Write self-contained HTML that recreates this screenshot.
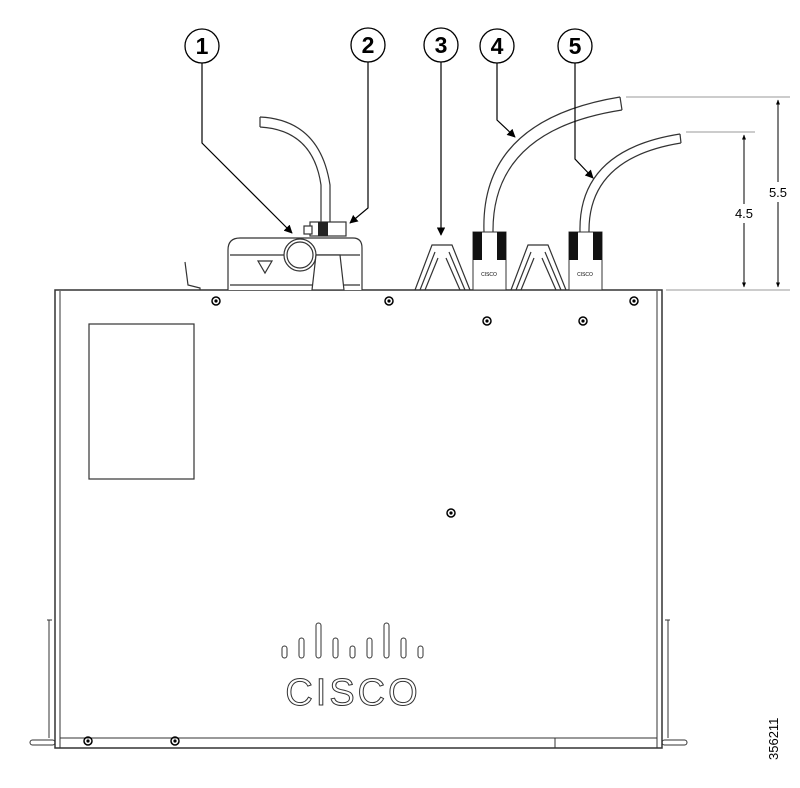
<!DOCTYPE html>
<html><head><meta charset="utf-8"><style>
html,body{margin:0;padding:0;background:#fff;width:800px;height:788px;overflow:hidden}
svg{display:block}
text{font-family:"Liberation Sans",sans-serif}
</style></head><body>
<svg width="800" height="788" viewBox="0 0 800 788" xmlns="http://www.w3.org/2000/svg">
<defs>
<marker id="ah" viewBox="0 0 10 10" refX="9" refY="5" markerWidth="7" markerHeight="7" orient="auto-start-reverse"><path d="M0,0 L10,5 L0,10 z" fill="#000"/></marker>
<marker id="sa" viewBox="0 0 10 10" refX="9" refY="5" markerWidth="5" markerHeight="5" orient="auto-start-reverse"><path d="M0,1 L10,5 L0,9 z" fill="#000"/></marker>
</defs>
<g fill="none" stroke="#333" stroke-width="1.5">
<path d="M55,748 V290 H662 V748 Z"/>
<line x1="60" y1="291" x2="60" y2="748" stroke-width="1"/>
<line x1="657" y1="291" x2="657" y2="748" stroke-width="1"/>
<line x1="60" y1="738" x2="657" y2="738" stroke-width="1"/>
<rect x="555" y="738" width="102" height="10" stroke-width="1"/>
<path d="M49,620 V738 M47,620 h5" stroke-width="1"/>
<path d="M668,620 V738 M665,620 h5" stroke-width="1"/>
<rect x="30" y="740" width="25" height="5" rx="2.5" stroke-width="1"/>
<rect x="662" y="740" width="25" height="5" rx="2.5" stroke-width="1"/>
<rect x="89" y="324" width="105" height="155" stroke-width="1.2"/>
<g stroke-width="1">
<rect x="282" y="646" width="5" height="12" rx="2.5"/>
<rect x="299" y="638" width="5" height="20" rx="2.5"/>
<rect x="316" y="623" width="5" height="35" rx="2.5"/>
<rect x="333" y="638" width="5" height="20" rx="2.5"/>
<rect x="350" y="646" width="5" height="12" rx="2.5"/>
<rect x="367" y="638" width="5" height="20" rx="2.5"/>
<rect x="384" y="623" width="5" height="35" rx="2.5"/>
<rect x="401" y="638" width="5" height="20" rx="2.5"/>
<rect x="418" y="646" width="5" height="12" rx="2.5"/>
</g>
</g>
<text x="353" y="705" text-anchor="middle" font-size="38" fill="#fff" stroke="#333" stroke-width="1" letter-spacing="3">CISCO</text>
<g fill="none" stroke="#000" stroke-width="1.5">
<circle cx="216" cy="301" r="4"/><circle cx="389" cy="301" r="4"/><circle cx="487" cy="321" r="4"/><circle cx="583" cy="321" r="4"/><circle cx="634" cy="301" r="4"/><circle cx="451" cy="513" r="4"/><circle cx="88" cy="741" r="4"/><circle cx="175" cy="741" r="4"/>
</g>
<g fill="#000"><circle cx="216" cy="301" r="1.6"/><circle cx="389" cy="301" r="1.6"/><circle cx="487" cy="321" r="1.6"/><circle cx="583" cy="321" r="1.6"/><circle cx="634" cy="301" r="1.6"/><circle cx="451" cy="513" r="1.6"/><circle cx="88" cy="741" r="1.6"/><circle cx="175" cy="741" r="1.6"/></g>
<g fill="#fff" stroke="#333" stroke-width="1.2">
<path d="M228,290 V250 Q228,238 240,238 H353 Q362,238 362,248 V290"/>
<line x1="230" y1="255" x2="360" y2="255"/>
<line x1="230" y1="285" x2="360" y2="285"/>
<circle cx="300" cy="255" r="16"/><circle cx="300" cy="255" r="13"/>
<path d="M258,261 h14 l-7,12 z"/>
<path d="M312,290 l4,-35 h24 l4,35 z"/>
<rect x="310" y="222" width="36" height="14"/>
<rect x="304" y="226" width="8" height="8"/>
<path d="M260,117 Q320,120 330,185 V222 M260,127 Q313,130 321,185 V222" fill="none"/>
<path d="M260,117 v10"/>
<path d="M185,262 l3,23 l12,3 v2" fill="none"/>
</g>
<rect x="318" y="222" width="10" height="14" fill="#222"/>
<g fill="none" stroke="#333" stroke-width="1.2">
<path d="M415,290 L432,245 H452 L470,290 M420,290 L435,252 M465,290 L449,252 M425,290 L438,258 M460,290 L446,258"/>
<path d="M511,290 L528,245 H548 L566,290 M516,290 L531,252 M561,290 L545,252 M521,290 L534,258 M556,290 L542,258"/>
</g>
<g>
<rect x="473" y="232" width="33" height="58" fill="#fff" stroke="#333"/>
<rect x="473" y="232" width="9" height="28" fill="#111"/><rect x="497" y="232" width="9" height="28" fill="#111"/>
<rect x="569" y="232" width="33" height="58" fill="#fff" stroke="#333"/>
<rect x="569" y="232" width="9" height="28" fill="#111"/><rect x="593" y="232" width="9" height="28" fill="#111"/>
<text x="489" y="276" font-size="5" text-anchor="middle">CISCO</text>
<text x="585" y="276" font-size="5" text-anchor="middle">CISCO</text>
</g>
<g fill="none" stroke="#333" stroke-width="1.2">
<path d="M484,232 Q480,120 620,97 M493,232 Q492,130 622,110 M620,97 l2,13"/>
<path d="M580,232 Q578,150 680,134 M589,232 Q588,158 681,143 M680,134 l1,9"/>
<line x1="626" y1="97" x2="790" y2="97" stroke="#999" stroke-width="1"/>
<line x1="686" y1="132" x2="755" y2="132" stroke="#999" stroke-width="1"/>
<line x1="666" y1="290" x2="790" y2="290" stroke="#999" stroke-width="1"/>
</g>
<g stroke="#000" stroke-width="1">
<line x1="778" y1="100" x2="778" y2="182" marker-start="url(#sa)"/>
<line x1="778" y1="202" x2="778" y2="287" marker-end="url(#sa)"/>
<line x1="744" y1="135" x2="744" y2="204" marker-start="url(#sa)"/>
<line x1="744" y1="223" x2="744" y2="287" marker-end="url(#sa)"/>
</g>
<text x="778" y="197" font-size="13" text-anchor="middle">5.5</text>
<text x="744" y="218" font-size="13" text-anchor="middle">4.5</text>
<g fill="#fff" stroke="#000" stroke-width="1.3">
<circle cx="202" cy="46" r="17"/><circle cx="368" cy="45" r="17"/><circle cx="441" cy="45" r="17"/><circle cx="497" cy="46" r="17"/><circle cx="575" cy="46" r="17"/>
</g>
<g font-size="23" font-weight="bold" text-anchor="middle"><text x="202" y="54">1</text><text x="368" y="53">2</text><text x="441" y="53">3</text><text x="497" y="54">4</text><text x="575" y="54">5</text></g>
<g fill="none" stroke="#000" stroke-width="1.2">
<polyline points="202,63 202,143 292,233" marker-end="url(#ah)"/>
<polyline points="368,62 368,208 350,223" marker-end="url(#ah)"/>
<line x1="441" y1="62" x2="441" y2="235" marker-end="url(#ah)"/>
<polyline points="497,63 497,120 515,137" marker-end="url(#ah)"/>
<polyline points="575,63 575,159 593,178" marker-end="url(#ah)"/>
</g>
<text transform="translate(778,760) rotate(-90)" font-size="13">356211</text>
</svg>
</body></html>
